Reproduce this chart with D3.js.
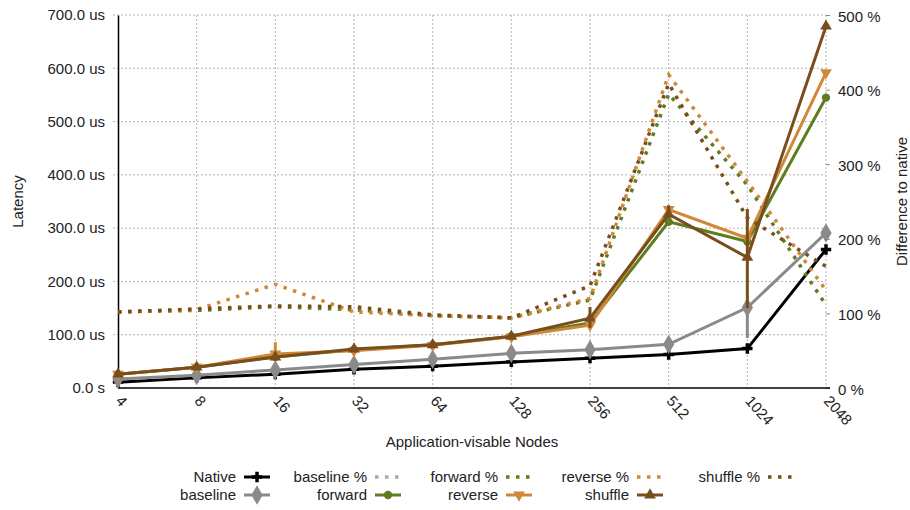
<!DOCTYPE html>
<html>
<head>
<meta charset="utf-8">
<script src="https://cdn.jsdelivr.net/npm/d3@7"></script>
<style>
  body { margin: 0; background: #fff; }
  text { font-family: "Liberation Sans", Arial, sans-serif; fill: #222; }
</style>
</head>
<body>
<div id="chart"></div>
<script>
// Data
const nodes = ["4", "8", "16", "32", "64", "128", "256", "512", "1024", "2048"];
// latency in us (left axis)
const native   = [11, 19, 26, 35, 41, 49, 56, 63, 74, 260];
const baseline = [17, 24, 34, 44, 54, 65, 72, 82, 151, 291];
const forward  = [26, 39, 58, 72, 81, 97, 122, 312, 275, 545];
const reverse  = [26, 39, 64, 70, 80, 96, 118, 335, 281, 592];
const shuffle  = [26, 39, 58, 73, 81, 97, 131, 326, 245, 679];
// difference to native in % (right axis)
const baselinePct = [null, null, null, null, null, null, null, null, null, null];
const forwardPct  = [102, 104, 109, 105, 97, 94, 118, 394, 272, 111];
const reversePct  = [102, 105, 139, 102, 97, 94, 120, 420, 277, 131];
const shufflePct  = [102, 106, 110, 109, 98, 94, 137, 408, 228, 163];
// error bars: [node index, low, high] in us
const reverseErr  = [[2, 56, 86]];
const shuffleErr  = [[6, 113, 152], [7, 319, 343], [8, 150, 336]];
const baselineErr = [[8, 94, 160]];
const leftTicks  = [0, 100, 200, 300, 400, 500, 600, 700];
const rightTicks = [0, 100, 200, 300, 400, 500];

const W = 910, H = 510;
const margin = {left: 118, right: 84, top: 15, bottom: 122};
const width = W - margin.left - margin.right;
const height = H - margin.top - margin.bottom;

const svg = d3.select("#chart").append("svg")
    .attr("width", W)
    .attr("height", H);
const g = svg.append("g")
    .attr("transform", "translate(" + margin.left + "," + margin.top + ")");

const x = d3.scalePoint().domain(nodes).range([0, width]);
const yL = d3.scaleLinear().domain([0, 700]).range([height, 0]);
const yR = d3.scaleLinear().domain([0, 500]).range([height, 0]);

// grid
g.selectAll(".hgrid").data(leftTicks.slice(1)).enter().append("line")
    .attr("x1", -5).attr("x2", width)
    .attr("y1", d => yL(d)).attr("y2", d => yL(d))
    .attr("stroke", "#b4b4b4").attr("stroke-dasharray", "2,2");
g.selectAll(".vgrid").data(nodes.slice(1)).enter().append("line")
    .attr("x1", d => x(d)).attr("x2", d => x(d))
    .attr("y1", 0).attr("y2", height)
    .attr("stroke", "#b4b4b4").attr("stroke-dasharray", "2,2");

// left axis
const axL = g.append("g")
    .call(d3.axisLeft(yL).tickValues(leftTicks).tickSize(0).tickPadding(13)
      .tickFormat(d => d === 0 ? "0.0  s" : d.toFixed(1) + " us"));
axL.select(".domain").attr("stroke", "#000").attr("stroke-width", 1.5);
axL.selectAll("text").style("font-size", "15px").attr("fill", "#222");

// right axis
const axR = g.append("g")
    .attr("transform", "translate(" + width + ",0)")
    .call(d3.axisRight(yR).tickValues(rightTicks).tickSize(4).tickPadding(8)
      .tickFormat(d => d + " %"));
axR.select(".domain").remove();
axR.selectAll("line").attr("stroke", "#888");
axR.selectAll("text").style("font-size", "15px").attr("fill", "#222").attr("dy", "0.4em");

// bottom axis
g.append("line")
    .attr("x1", 0).attr("x2", width + 4)
    .attr("y1", height).attr("y2", height)
    .attr("stroke", "#000").attr("stroke-width", 1.5);
g.selectAll(".xlab").data(nodes).enter().append("text")
    .attr("transform", d => "translate(" + (x(d) + 1) + "," + (height + 10) + ") rotate(48)")
    .attr("dy", "0.35em")
    .style("font-size", "15px")
    .text(d => d);

// axis titles
svg.append("text")
    .attr("x", margin.left + width / 2).attr("y", 447)
    .attr("text-anchor", "middle").style("font-size", "15px")
    .text("Application-visable Nodes");
svg.append("text")
    .attr("transform", "translate(23," + (margin.top + height / 2) + ") rotate(-90)")
    .attr("text-anchor", "middle").style("font-size", "15px")
    .text("Latency");
svg.append("text")
    .attr("transform", "translate(907," + (margin.top + height / 2) + ") rotate(-90)")
    .attr("text-anchor", "middle").style("font-size", "15px")
    .text("Difference to native");

// series, in legend order
const series = [
  {name: "Native",     vals: native,      axis: yL, color: "#000000", sym: "cross"},
  {name: "baseline",   vals: baseline,    axis: yL, color: "#8a8a8a", sym: "diamond", err: baselineErr},
  {name: "baseline %", vals: baselinePct, axis: yR, color: "#a8a8a8", dotted: true},
  {name: "forward",    vals: forward,     axis: yL, color: "#5e7d1e", sym: "circle"},
  {name: "forward %",  vals: forwardPct,  axis: yR, color: "#5e7d1e", dotted: true},
  {name: "reverse",    vals: reverse,     axis: yL, color: "#d08838", sym: "down", err: reverseErr},
  {name: "reverse %",  vals: reversePct,  axis: yR, color: "#d08838", dotted: true},
  {name: "shuffle",    vals: shuffle,     axis: yL, color: "#7a4d1c", sym: "up", err: shuffleErr},
  {name: "shuffle %",  vals: shufflePct,  axis: yR, color: "#7a4d1c", dotted: true}
];

function symPath(s) {
  if (s === "cross") return d3.symbol(d3.symbolCross, 60)();
  if (s === "diamond") return d3.symbol(d3.symbolDiamond, 110)();
  if (s === "circle") return d3.symbol(d3.symbolCircle, 55)();
  return d3.symbol(d3.symbolTriangle, 60)();
}
function symTransform(s, px, py) {
  return "translate(" + px + "," + py + ")" + (s === "down" ? " rotate(180)" : "");
}

series.forEach(s => {
  const line = d3.line()
      .defined(d => d != null)
      .x((d, i) => x(nodes[i]))
      .y(d => s.axis(d));
  g.append("path")
      .datum(s.vals)
      .attr("fill", "none")
      .attr("stroke", s.color)
      .attr("stroke-width", s.dotted ? 3.5 : 3)
      .attr("stroke-dasharray", s.dotted ? "3.5,6.5" : null)
      .attr("d", line);
  if (s.err) {
    g.selectAll(null).data(s.err).enter().append("line")
        .attr("x1", d => x(nodes[d[0]])).attr("x2", d => x(nodes[d[0]]))
        .attr("y1", d => yL(d[1])).attr("y2", d => yL(d[2]))
        .attr("stroke", s.color).attr("stroke-width", 3);
  }
  if (s.sym) {
    g.selectAll(null).data(s.vals.map((v, i) => [i, v]).filter(d => d[1] != null))
      .enter().append("path")
        .attr("d", symPath(s.sym))
        .attr("transform", d => symTransform(s.sym, x(nodes[d[0]]), s.axis(d[1])))
        .attr("fill", s.color);
  }
});

// legend: 2 rows, filled column by column
const leg = svg.append("g");
series.forEach((s, i) => {
  const col = Math.floor(i / 2), row = i % 2;
  const lx = 236 + col * 131, ly = 477 + row * 18;
  leg.append("text")
      .attr("x", lx).attr("y", ly).attr("dy", "0.35em")
      .attr("text-anchor", "end").style("font-size", "15px")
      .text(s.name);
  leg.append("line")
      .attr("x1", lx + 8).attr("x2", lx + 34)
      .attr("y1", ly).attr("y2", ly)
      .attr("stroke", s.color)
      .attr("stroke-width", s.dotted ? 3.5 : 3)
      .attr("stroke-dasharray", s.dotted ? "3.5,6.5" : null);
  if (s.sym) {
    leg.append("path")
        .attr("d", symPath(s.sym))
        .attr("transform", symTransform(s.sym, lx + 21, ly))
        .attr("fill", s.color);
  }
});
</script>
</body>
</html>
